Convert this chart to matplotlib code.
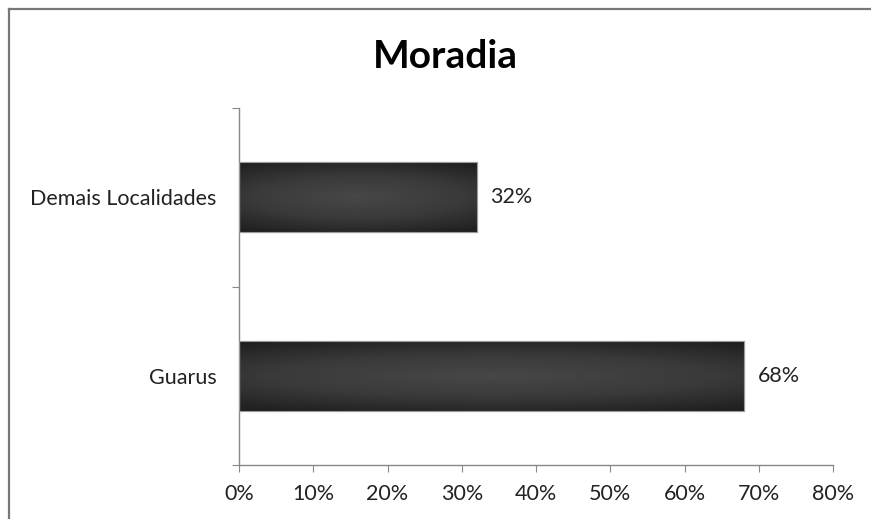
import matplotlib
matplotlib.use("Agg")
import matplotlib.pyplot as plt
import numpy as np
from matplotlib.lines import Line2D

categories = ["Guarus", "Demais Localidades"]
values = [68, 32]
xticks = [0, 10, 20, 30, 40, 50, 60, 70, 80]
title = "Moradia"

plt.rcParams['font.family'] = ['Lato', 'DejaVu Sans']

fig = plt.figure(figsize=(8.71, 5.19), dpi=100)
ax = fig.add_axes([239/871, 1-465/519, (833-239)/871, (465-108)/519])

ypos = np.arange(len(categories))
bars = ax.barh(ypos, values, height=0.39, color='#333333', edgecolor='#9a9a9a', linewidth=0.8, zorder=2)

# radial-ish gradient fill inside each bar
gx = np.linspace(-1, 1, 300)
gy = np.linspace(-1, 1, 60)
GX, GY = np.meshgrid(gx, gy)
R = np.sqrt((GX*0.55)**2 + (GY*0.8)**2)
grad = np.clip(R / 0.95, 0, 1)
cmap = matplotlib.colors.LinearSegmentedColormap.from_list('g', ['#474747', '#3a3a3a', '#1f1f1f'])
for b in bars:
    x0, y0 = b.get_x(), b.get_y()
    w, h = b.get_width(), b.get_height()
    im = ax.imshow(grad, cmap=cmap, extent=[x0, x0+w, y0, y0+h], aspect='auto',
                   zorder=2.5, interpolation='bilinear')
    im.set_clip_path(b)
    ax.add_patch(matplotlib.patches.Rectangle((x0, y0), w, h, fill=False, edgecolor='#9a9a9a',
                                              linewidth=0.8, zorder=3))
    ax.annotate(f"{int(round(w))}%", xy=(x0 + w, y0 + h/2), xytext=(10, 0), textcoords='offset points',
                ha='left', va='center', fontsize=15.5, color='#222222')

ax.set_xlim(0, 80)
ax.set_ylim(-0.5, len(categories) - 0.5)
ax.set_xticks(xticks)
ax.set_xticklabels([f"{t}%" for t in xticks], fontsize=15.5, color='#222222')
ax.set_yticks(np.arange(-0.5, len(categories), 1.0))
ax.set_yticklabels([])
ax.set_yticks(ypos, minor=True)
ax.set_yticklabels(categories, minor=True, fontsize=15.5, color='#222222')
ax.tick_params(axis='y', which='minor', length=0, pad=16)
ax.tick_params(axis='y', which='major', length=5, color='#888888', direction='out')
ax.tick_params(axis='x', length=5, color='#888888', direction='out', pad=9)
ax.set_aspect('auto')

for s in ['top', 'right']:
    ax.spines[s].set_visible(False)
for s in ['left', 'bottom']:
    ax.spines[s].set_color('#888888')
    ax.spines[s].set_linewidth(1.0)

fig.text(445/871, 1-57/519, title, ha='center', va='center', fontsize=28, fontweight='bold', color='black')

# outer frame (top and left lines)
fig.add_artist(Line2D([9/871, 1], [1-8.5/519, 1-8.5/519], color='#777777', linewidth=1.6, transform=fig.transFigure))
fig.add_artist(Line2D([9/871, 9/871], [0, 1-8.5/519], color='#777777', linewidth=1.6, transform=fig.transFigure))

fig.savefig("out.png", dpi=100)
